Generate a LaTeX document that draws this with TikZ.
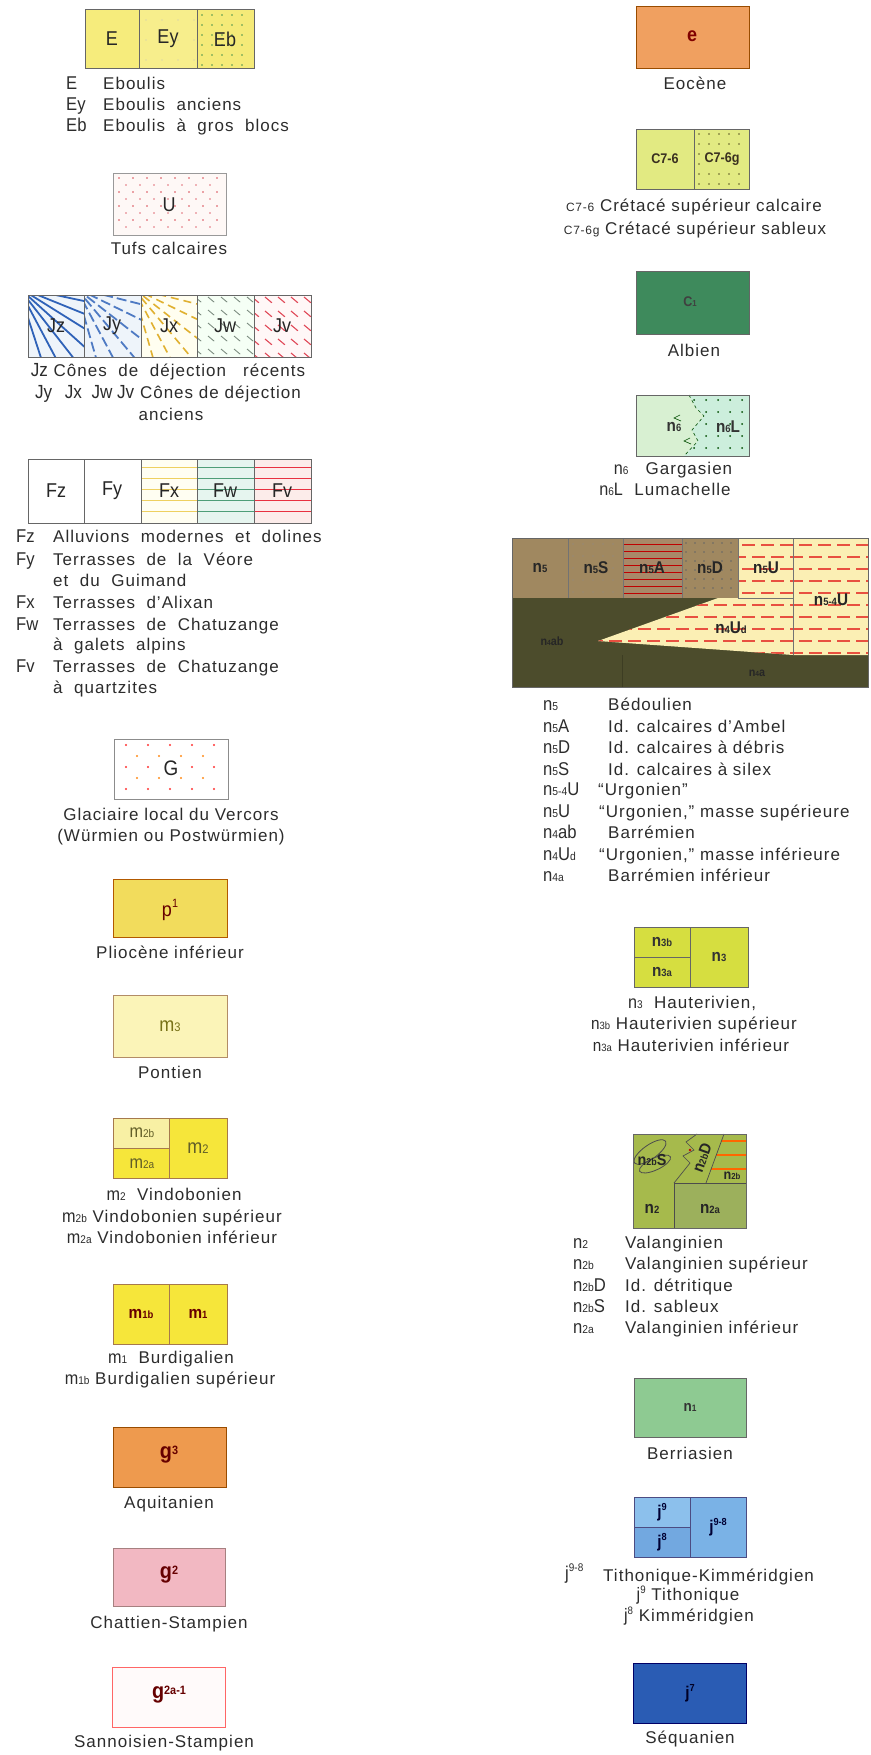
\documentclass[tikz,border=0pt]{standalone}
\usepackage{fontspec}
\setmainfont{Liberation Sans}[LetterSpace=6]
\newfontfamily\symf{Liberation Sans}[FakeStretch=0.9]
\newfontfamily\boxf{Liberation Sans Bold}[FakeStretch=0.9]
\makeatletter
\newcommand\lo[1]{{\fontsize{\the\dimexpr 0.62\dimexpr\f@size pt\relax\relax}{0pt}\selectfont #1}}
\newcommand\hi[1]{\raisebox{0.42em}{\fontsize{\the\dimexpr 0.6\dimexpr\f@size pt\relax\relax}{0pt}\selectfont #1}}
\newcommand\md[1]{\raisebox{0.18em}{\fontsize{\the\dimexpr 0.55\dimexpr\f@size pt\relax\relax}{0pt}\selectfont #1}}
\makeatother
\definecolor{ey1}{HTML}{F6EC7C}
\definecolor{ey2}{HTML}{F7EE8C}
\definecolor{ey3}{HTML}{F5EA78}
\definecolor{ubg}{HTML}{FEF8F6}
\definecolor{udot}{HTML}{D84A56}
\definecolor{jzbg}{HTML}{EEF4FA}
\definecolor{jblue}{HTML}{2F62B8}
\definecolor{jyel}{HTML}{E0B030}
\definecolor{jgray}{HTML}{7C8C80}
\definecolor{jred}{HTML}{E04858}
\definecolor{fwbg}{HTML}{E6F5EF}
\definecolor{fvbg}{HTML}{FCECEA}
\definecolor{fxl}{HTML}{EED060}
\definecolor{fwl}{HTML}{4E9E78}
\definecolor{fvl}{HTML}{E83040}
\definecolor{pone}{HTML}{F2DC5C}
\definecolor{mthree}{HTML}{FBF4B8}
\definecolor{mtwob}{HTML}{F8F0A4}
\definecolor{myel}{HTML}{F6E63A}
\definecolor{gthree}{HTML}{EE9A4E}
\definecolor{gtwo}{HTML}{F2B8C2}
\definecolor{eoc}{HTML}{F0A060}
\definecolor{cyel}{HTML}{E2EA82}
\definecolor{calb}{HTML}{3E8A5C}
\definecolor{nsix}{HTML}{D8F0D2}
\definecolor{nsixl}{HTML}{CCEEDC}
\definecolor{nbrown}{HTML}{A08860}
\definecolor{nbrowna}{HTML}{A88868}
\definecolor{nolive}{HTML}{4C4C2C}
\definecolor{nyel}{HTML}{FBEFB4}
\definecolor{ndash}{HTML}{E85040}
\definecolor{nthree}{HTML}{D6DE40}
\definecolor{ntwo}{HTML}{A6BA4C}
\definecolor{ntwoa}{HTML}{9CB05C}
\definecolor{nberr}{HTML}{8ECA92}
\definecolor{jnine}{HTML}{8CC0EC}
\definecolor{jeight}{HTML}{72A8E0}
\definecolor{jnineeight}{HTML}{7AB2E6}
\definecolor{jseven}{HTML}{2A5CB4}
\definecolor{textc}{HTML}{2C2C2C}
\definecolor{boxt}{HTML}{3A3020}
\tikzset{
  txt/.style={font=\fontsize{17}{20}\selectfont, inner sep=0pt, text=textc, anchor=mid},
  lw/.style={txt, anchor=mid west},
  sym/.style={font=\symf\fontsize{18.5}{20}\selectfont, inner sep=0pt, anchor=mid west, text=textc},
  inb/.style={font=\boxf\fontsize{17}{20}\selectfont, inner sep=0pt, text=boxt},
  inl/.style={font=\symf\fontsize{20}{20}\selectfont, inner sep=0pt, text=black!85},
  box/.style={draw=black!60, line width=0.8pt},
}
\begin{document}
\begin{tikzpicture}[x=1pt,y=-1pt]
\useasboundingbox (0,0) rectangle (870,1755);
% ================= LEFT COLUMN =================
% --- E box
\fill[ey1] (85,9) rectangle (139,68);
\fill[ey2] (139,9) rectangle (197,68);
\fill[ey3] (197,9) rectangle (254,68);
\foreach \x in {202,212,...,250} \foreach \y in {15,25,...,65} \fill[green!40!black!70] (\x,\y) circle[radius=0.8pt];
\foreach \x in {146,162,...,194} \foreach \y in {20,40,60} \fill[black!25] (\x,\y) circle[radius=0.6pt];
\draw[box] (85,9) rectangle (254,68) (139,9)--(139,68) (197,9)--(197,68);
\node[inl] (bE) at (112,39) {E};
\node[inl] (bEy) at (168,39) {Ey};
\node[inl] (bEb) at (225,39) {Eb};
\node[sym] (sE) at (66,87) {E};
\node[sym] (sEy) at (66,108) {Ey};
\node[sym] (sEb) at (66,129) {Eb};
\node[lw] (tE) at (103,87) {Eboulis};
\node[lw] (tEy) at (103,108) {Eboulis\ \ anciens};
\node[lw] (tEb) at (103,129) {Eboulis\ \ à\ \ gros\ \ blocs};
% --- U box
\fill[ubg] (113,173) rectangle (226,235);
\foreach \x in {119,133,...,222} \foreach \y in {178,192,...,232} \fill[udot] (\x,\y) circle[radius=0.9pt];
\foreach \x in {126,140,...,222} \foreach \y in {185,199,...,232} \fill[udot!80] (\x,\y) circle[radius=0.9pt];
\draw[box, draw=black!40] (113,173) rectangle (226,235);
\node[inl] (bU) at (169,205) {U};
\node[txt] (tU) at (169,252) {Tufs calcaires};
% --- J box
\begin{scope}
\clip (28,295) rectangle (84,357);
\fill[jzbg] (28,295) rectangle (84,357);
\foreach \a in {-12,-22,...,-82} \draw[jblue, line width=1.8pt] (18,287) -- ++(\a:110pt);
\end{scope}
\begin{scope}
\clip (84,295) rectangle (141,357);
\fill[jzbg] (84,295) rectangle (141,357);
\foreach \a in {-14,-26,...,-85} \draw[jblue!85, line width=1.8pt, dash pattern=on 10pt off 4pt] (76,288) -- ++(\a:110pt);
\end{scope}
\begin{scope}
\clip (141,295) rectangle (197,357);
\fill[yellow!6] (141,295) rectangle (197,357);
\foreach \a in {-14,-26,...,-85} \draw[jyel, line width=1.6pt, dash pattern=on 8pt off 5pt] (133,288) -- ++(\a:110pt);
\end{scope}
\begin{scope}
\clip (197,295) rectangle (254,357);
\fill[green!4] (197,295) rectangle (254,357);
\foreach \x in {195,208,...,260} \foreach \y in {297,310,...,357} \draw[jgray, line width=0.9pt] (\x,\y) -- ++(-40:8pt);
\end{scope}
\begin{scope}
\clip (254,295) rectangle (311,357);
\fill[red!3] (254,295) rectangle (311,357);
\foreach \x in {252,265,...,315} \foreach \y in {297,311,...,357} \draw[jred, line width=1.1pt] (\x,\y) -- ++(-40:9pt);
\end{scope}
\draw[box] (28,295) rectangle (311,357) (84,295)--(84,357) (141,295)--(141,357) (197,295)--(197,357) (254,295)--(254,357);
\node[inl] (bJz) at (56,326) {Jz};
\node[inl] (bJy) at (112,326) {Jy};
\node[inl] (bJx) at (169,326) {Jx};
\node[inl] (bJw) at (225,326) {Jw};
\node[inl] (bJv) at (282,326) {Jv};
\node[txt] (tJz) at (168,374) {{\symf\fontsize{19}{20}\selectfont Jz}\ Cônes\ \ de\ \ déjection\ \ \ récents};
\node[txt] (tJy) at (168,396) {{\symf\fontsize{19}{20}\selectfont Jy\ \ \,Jx\ \ Jw\ Jv}\ Cônes de déjection};
\node[txt] (tJa) at (171,418) {anciens};
% --- F box
\fill[white] (28,459) rectangle (141,523);
\fill[yellow!5] (141,459) rectangle (197,523);
\fill[fwbg] (197,459) rectangle (254,523);
\fill[fvbg] (254,459) rectangle (311,523);
\foreach \y in {467,478,...,521} \draw[fxl, line width=0.8pt] (141,\y)--(197,\y);
\foreach \y in {467,478,...,521} \draw[fwl, line width=0.8pt] (197,\y)--(254,\y);
\foreach \y in {467,478,...,521} \draw[fvl, line width=0.9pt] (254,\y)--(311,\y);
\draw[box] (28,459) rectangle (311,523) (84,459)--(84,523) (141,459)--(141,523) (197,459)--(197,523) (254,459)--(254,523);
\node[inl] (bFz) at (56,491) {Fz};
\node[inl] (bFy) at (112,491) {Fy};
\node[inl] (bFx) at (169,491) {Fx};
\node[inl] (bFw) at (225,491) {Fw};
\node[inl] (bFv) at (282,491) {Fv};
\node[sym] (sFz) at (16,540) {Fz};
\node[sym] (sFy) at (16,563) {Fy};
\node[sym] (sFx) at (16,606) {Fx};
\node[sym] (sFw) at (16,628) {Fw};
\node[sym] (sFv) at (16,670) {Fv};
\node[lw] (tFz) at (53,540) {Alluvions\ \ modernes\ \ et\ \ dolines};
\node[lw] (tFy) at (53,563) {Terrasses\ \ de\ \ la\ \ Véore};
\node[lw] (tFy2) at (53,584) {et\ \ du\ \ Guimand};
\node[lw] (tFx) at (53,606) {Terrasses\ \ d’Alixan};
\node[lw] (tFw) at (53,628) {Terrasses\ \ de\ \ Chatuzange};
\node[lw] (tFw2) at (53,648) {à\ \ galets\ \ alpins};
\node[lw] (tFv) at (53,670) {Terrasses\ \ de\ \ Chatuzange};
\node[lw] (tFv2) at (53,691) {à\ \ quartzites};
% --- G box
\fill[white] (114,739) rectangle (228,799);
\foreach \x in {126,148,...,222} \foreach \y in {745,767,789} \fill[red!80!white] (\x,\y) circle[radius=1.2pt];
\foreach \x in {137,159,...,222} \foreach \y in {756,778} \fill[orange!90] (\x,\y) circle[radius=1.2pt];
\draw[box, draw=black!45] (114,739) rectangle (228,799);
\node[inl, font=\symf\fontsize{21}{20}\selectfont, fill=white, inner sep=1pt] (bG) at (171,768) {G};
\node[txt] (tG1) at (171,818) {Glaciaire local du Vercors};
\node[txt] (tG2) at (171,839) {(Würmien ou Postwürmien)};
% --- p1
\fill[pone] (113,879) rectangle (227,937);
\draw[box, draw=orange!70!black] (113,879) rectangle (227,937);
\node[inl, text=red!40!black] (bp) at (170,910) {p\hi{1}};
\node[txt] (tp) at (170,956) {Pliocène inférieur};
% --- m3
\fill[mthree] (113,995) rectangle (227,1057);
\draw[box, draw=orange!50!black!60] (113,995) rectangle (227,1057);
\node[inl, text=olive!80!black] (bm3) at (170,1026) {m\lo{3}};
\node[txt] (tm3) at (170,1076) {Pontien};
% --- m2
\fill[myel] (113,1118) rectangle (227,1178);
\fill[mtwob] (113,1118) rectangle (169,1148);
\draw[box, draw=orange!50!black!70] (113,1118) rectangle (227,1178) (169,1118)--(169,1178) (113,1148)--(169,1148);
\node[inl, text=olive!60!black, font=\symf\fontsize{18}{20}\selectfont] (bm2b) at (142,1133) {m\lo{2b}};
\node[inl, text=olive!60!black, font=\symf\fontsize{18}{20}\selectfont] (bm2a) at (142,1164) {m\lo{2a}};
\node[inl, text=olive!60!black] (bm2) at (198,1148) {m\lo{2}};
\node[txt] (tm2) at (174,1198) {{\symf\fontsize{18}{20}\selectfont m\lo{2}}\ \ Vindobonien};
\node[txt] (tm2b) at (172,1220) {{\symf\fontsize{18}{20}\selectfont m\lo{2b}} Vindobonien supérieur};
\node[txt] (tm2a) at (172,1241) {{\symf\fontsize{18}{20}\selectfont m\lo{2a}} Vindobonien inférieur};
% --- m1
\fill[myel] (113,1284) rectangle (227,1344);
\draw[box, draw=orange!50!black!70] (113,1284) rectangle (227,1344) (169,1284)--(169,1344);
\node[inb, text=red!40!black] (bm1b) at (141,1314) {m\lo{1b}};
\node[inb, text=red!40!black] (bm1) at (198,1314) {m\lo{1}};
\node[txt] (tm1) at (171,1361) {{\symf\fontsize{18}{20}\selectfont m\lo{1}}\ \ Burdigalien};
\node[txt] (tm1b) at (170,1382) {{\symf\fontsize{18}{20}\selectfont m\lo{1b}}\ Burdigalien supérieur};
% --- g3
\fill[gthree] (113,1427) rectangle (226,1487);
\draw[box, draw=orange!60!black] (113,1427) rectangle (226,1487);
\node[inb, font=\boxf\fontsize{22}{20}\selectfont, text=red!40!black] (bg3) at (169,1455) {g\md{3}};
\node[txt] (tg3) at (169,1506) {Aquitanien};
% --- g2
\fill[gtwo] (113,1548) rectangle (225,1606);
\draw[box, draw=red!30!black!50] (113,1548) rectangle (225,1606);
\node[inb, font=\boxf\fontsize{22}{20}\selectfont, text=red!40!black] (bg2) at (169,1575) {g\md{2}};
\node[txt] (tg2) at (169,1626) {Chattien-Stampien};
% --- g2a-1
\fill[red!2] (112,1667) rectangle (225,1727);
\draw[box, draw=red!60!white] (112,1667) rectangle (225,1727);
\node[inb, font=\boxf\fontsize{22}{20}\selectfont, text=red!40!black] (bg21) at (169,1695) {g\md{2a-1}};
\node[txt] (tg21) at (164,1745) {Sannoisien-Stampien};
% ================= RIGHT COLUMN =================
% --- Eocene
\fill[eoc] (636,6) rectangle (749,68);
\draw[box, draw=orange!60!black] (636,6) rectangle (749,68);
\node[inb, font=\boxf\fontsize{20}{20}\selectfont, text=red!50!black] (be) at (692,36) {e};
\node[txt] (te) at (695,87) {Eocène};
% --- C7-6
\fill[cyel] (636,129) rectangle (749,189);
\foreach \x in {699,709,...,746} \foreach \y in {134,144,...,186} \fill[olive!60!black] (\x,\y) circle[radius=0.8pt];
\draw[box] (636,129) rectangle (749,189) (694,129)--(694,189);
\node[inb, font=\boxf\fontsize{14}{16}\selectfont] (bC) at (665,159) {C7-6};
\node[inb, font=\boxf\fontsize{14}{16}\selectfont, fill=cyel, inner sep=0.5pt] (bCg) at (722,159) {C7-6g};
\node[txt] (tC) at (694,209) {{\fontsize{12}{12}\selectfont C7-6} Crétacé supérieur calcaire};
\node[txt] (tCg) at (695,232) {{\fontsize{12}{12}\selectfont C7-6g} Crétacé supérieur sableux};
% --- C1
\fill[calb] (636,271) rectangle (749,334);
\draw[box] (636,271) rectangle (749,334);
\node[inb, font=\boxf\fontsize{14}{14}\selectfont, text=black!75] (bC1) at (690,302) {C\lo{1}};
\node[txt] (tC1) at (694,354) {Albien};
% --- n6
\fill[nsix] (636,395) rectangle (749,456);
\fill[nsixl] (689,395) -- (749,395) -- (749,456) -- (684,456) -- (698,441) -- (692,430) -- (704,416) -- (696,408) -- cycle;
\begin{scope}
\clip (689,395) -- (749,395) -- (749,456) -- (684,456) -- (698,441) -- (692,430) -- (704,416) -- (696,408) -- cycle;
\foreach \x in {694,706,...,748} \foreach \y in {400,412,...,454} \fill[green!30!black] (\x,\y) circle[radius=1pt];
\end{scope}
\draw[green!30!black, line width=0.6pt, dashed] (689,395) -- (696,408) -- (704,416) -- (692,430) -- (698,441) -- (684,456);
\draw[green!30!black, line width=0.6pt] (680,415) -- (674,418) -- (681,421) (690,438) -- (684,441) -- (691,444);
\draw[box] (636,395) rectangle (749,456);
\node[inb, text=black!80] (bn6) at (674,427) {n\lo{6}};
\node[inb, text=black!80] (bn6L) at (728,427) {n\lo{6}L};
\node[txt] (tn6) at (673,472) {{\symf\fontsize{18}{20}\selectfont n\lo{6}}\ \ \ Gargasien};
\node[txt] (tn6L) at (665,493) {{\symf\fontsize{18}{20}\selectfont n\lo{6}L}\ \ Lumachelle};
% --- n5 block
\fill[nolive] (512,598) rectangle (868,687);
\fill[nbrown] (512,538) rectangle (738,598);
\fill[nbrowna] (623,538) rectangle (682,598);
\foreach \y in {544,551,...,596} \draw[red!75!black, line width=0.6pt] (623,\y)--(682,\y);
\foreach \x in {573,583,...,620} \foreach \y in {544,556,...,596} \fill[black!45] (\x,\y) circle[radius=0.7pt];
\foreach \x in {686,695,...,736} \foreach \y in {543,552,...,596} \fill[black!60] (\x,\y) circle[radius=0.8pt];
\fill[nyel] (738,538) -- (868,538) -- (868,655) -- (793,655) -- (598,641) -- (718,598) -- (738,598) -- cycle;
\begin{scope}
\clip (738,538) -- (868,538) -- (868,655) -- (793,655) -- (598,641) -- (718,598) -- (738,598) -- cycle;
\foreach \y in {545,569,...,655} \draw[ndash, line width=1.2pt, dash pattern=on 13pt off 6pt] (590,\y)--(870,\y);
\foreach \y in {557,581,...,655} \draw[ndash, line width=1.2pt, dash pattern=on 13pt off 6pt, dash phase=9pt] (590,\y)--(870,\y);
\end{scope}
\draw[black!55, line width=0.7pt] (568,538)--(568,598) (623,538)--(623,598) (682,538)--(682,598) (738,538)--(738,598) (793,538)--(793,655) (738,598)--(793,598);
\draw[nolive!80!black, line width=0.6pt] (622,655)--(622,687);
\draw[box] (512,538) rectangle (868,687);
\node[inb, text=black!85] (bn5) at (540,568) {n\lo{5}};
\node[inb, text=black!85] (bn5S) at (596,568) {n\lo{5}S};
\node[inb, text=black!85] (bn5A) at (652,568) {n\lo{5}A};
\node[inb, text=black!85] (bn5D) at (710,568) {n\lo{5}D};
\node[inb, text=black!85] (bn5U) at (766,568) {n\lo{5}U};
\node[inb, text=black!85] (bn54U) at (831,600) {n\lo{5-4}U};
\node[inb, text=black!85] (bn4Ud) at (731,628) {n\lo{4}U\lo{d}};
\node[inb, text=black!85, font=\boxf\fontsize{12}{14}\selectfont] (bn4ab) at (552,641) {n\lo{4}ab};
\node[inb, text=black!85, font=\boxf\fontsize{12}{14}\selectfont] (bn4a) at (757,673) {n\lo{4}a};
\node[sym] (sn5) at (543,708) {n\lo{5}};
\node[sym] (sn5A) at (543,730) {n\lo{5}A};
\node[sym] (sn5D) at (543,751) {n\lo{5}D};
\node[sym] (sn5S) at (543,773) {n\lo{5}S};
\node[sym] (sn54U) at (543,793) {n\lo{5-4}U};
\node[sym] (sn5U) at (543,815) {n\lo{5}U};
\node[sym] (sn4ab) at (543,836) {n\lo{4}ab};
\node[sym] (sn4Ud) at (543,858) {n\lo{4}U\lo{d}};
\node[sym] (sn4a) at (543,879) {n\lo{4a}};
\node[lw] (tn5) at (608,708) {Bédoulien};
\node[lw] (tn5A) at (608,730) {Id. calcaires d’Ambel};
\node[lw] (tn5D) at (608,751) {Id. calcaires à débris};
\node[lw] (tn5S) at (608,773) {Id. calcaires à silex};
\node[lw] (tn54U) at (598,793) {“Urgonien”};
\node[lw] (tn5U) at (599,815) {“Urgonien,” masse supérieure};
\node[lw] (tn4ab) at (608,836) {Barrémien};
\node[lw] (tn4Ud) at (599,858) {“Urgonien,” masse inférieure};
\node[lw] (tn4a) at (608,879) {Barrémien inférieur};
% --- n3
\fill[nthree] (634,927) rectangle (748,987);
\draw[box] (634,927) rectangle (748,987) (690,927)--(690,987) (634,957)--(690,957);
\node[inb, text=black!80] (bn3b) at (662,942) {n\lo{3b}};
\node[inb, text=black!80] (bn3a) at (662,972) {n\lo{3a}};
\node[inb, text=black!80] (bn3) at (719,957) {n\lo{3}};
\node[txt] (tn3) at (692,1006) {{\symf\fontsize{18}{20}\selectfont n\lo{3}}\ \ Hauterivien,};
\node[txt] (tn3b) at (694,1027) {{\symf\fontsize{17}{20}\selectfont n\lo{3b}} Hauterivien supérieur};
\node[txt] (tn3a) at (691,1049) {{\symf\fontsize{17}{20}\selectfont n\lo{3a}}\ Hauterivien inférieur};
% --- n2
\fill[ntwo] (633,1134) rectangle (746,1228);
\fill[ntwoa] (674,1183) rectangle (746,1228);
\begin{scope}
\clip (706,1183) -- (724,1134) -- (746,1134) -- (746,1183) -- cycle;
\foreach \y in {1141,1155,1169} \draw[orange!80!red, line width=1.2pt] (700,\y)--(746,\y);
\end{scope}
\draw[black!70, line width=0.8pt] (674,1183) -- (746,1183) (674,1183)--(674,1228);
\draw[black!70, line width=0.7pt] (674,1183) -- (690,1163) -- (683,1156) -- (694,1150) -- (686,1142) -- (697,1134);
\draw[black!70, line width=0.7pt] (706,1183) -- (724,1134);
\draw[black!70, line width=0.8pt, rotate around={35:(650,1152)}] (650,1152) ellipse[x radius=19pt, y radius=7pt];
\draw[black!70, line width=0.8pt, rotate around={25:(655,1164)}] (655,1164) ellipse[x radius=17pt, y radius=6pt];
\fill[red!80!black] (690,1150) circle[radius=1.3pt];
\draw[box] (633,1134) rectangle (746,1228);
\node[inb, text=black!85, font=\boxf\fontsize{16}{16}\selectfont] (bn2bS) at (652,1160) {n\lo{2b}S};
\node[inb, text=black!85, font=\boxf\fontsize{16}{16}\selectfont, rotate=70] (bn2bD) at (702,1158) {n\lo{2b}D};
\node[inb, text=black!85, font=\boxf\fontsize{14}{16}\selectfont] (bn2b) at (732,1176) {n\lo{2b}};
\node[inb, text=black!85] (bn2) at (652,1209) {n\lo{2}};
\node[inb, text=black!85] (bn2a) at (710,1209) {n\lo{2a}};
\node[sym] (sn2) at (573,1246) {n\lo{2}};
\node[sym] (sn2b) at (573,1267) {n\lo{2b}};
\node[sym] (sn2bD) at (573,1289) {n\lo{2b}D};
\node[sym] (sn2bS) at (573,1310) {n\lo{2b}S};
\node[sym] (sn2a) at (573,1331) {n\lo{2a}};
\node[lw] (tn2) at (625,1246) {Valanginien};
\node[lw] (tn2b) at (625,1267) {Valanginien supérieur};
\node[lw] (tn2bD) at (625,1289) {Id. détritique};
\node[lw] (tn2bS) at (625,1310) {Id. sableux};
\node[lw] (tn2a) at (625,1331) {Valanginien inférieur};
% --- n1
\fill[nberr] (634,1378) rectangle (746,1437);
\draw[box] (634,1378) rectangle (746,1437);
\node[inb, text=black!80, font=\boxf\fontsize{15}{14}\selectfont] (bn1) at (690,1407) {n\lo{1}};
\node[txt] (tn1) at (690,1457) {Berriasien};
% --- j9-8
\fill[jnineeight] (634,1497) rectangle (746,1557);
\fill[jnine] (634,1497) rectangle (690,1527);
\fill[jeight] (634,1527) rectangle (690,1557);
\draw[box, draw=blue!30!black!70] (634,1497) rectangle (746,1557) (690,1497)--(690,1557) (634,1527)--(690,1527);
\node[inb, text=blue!20!black] (bj9) at (662,1512) {j\hi{9}};
\node[inb, text=blue!20!black] (bj8) at (662,1542) {j\hi{8}};
\node[inb, text=blue!20!black] (bj98) at (718,1527) {j\hi{9-8}};
\node[sym] (sj98) at (565,1577) {j\hi{9-8}};
\node[lw] (tj98) at (603,1579) {Tithonique-Kimméridgien};
\node[txt] (tj9) at (688,1598) {{\symf\fontsize{18}{20}\selectfont j\hi{9}} Tithonique};
\node[txt] (tj8) at (689,1619) {{\symf\fontsize{18}{20}\selectfont j\hi{8}}\ Kimméridgien};
% --- j7
\fill[jseven] (633,1663) rectangle (746,1723);
\draw[box, draw=blue!40!black] (633,1663) rectangle (746,1723);
\node[inb, text=blue!15!black] (bj7) at (690,1693) {j\hi{7}};
\node[txt] (tj7) at (690,1741) {Séquanien};
\end{tikzpicture}
\end{document}
